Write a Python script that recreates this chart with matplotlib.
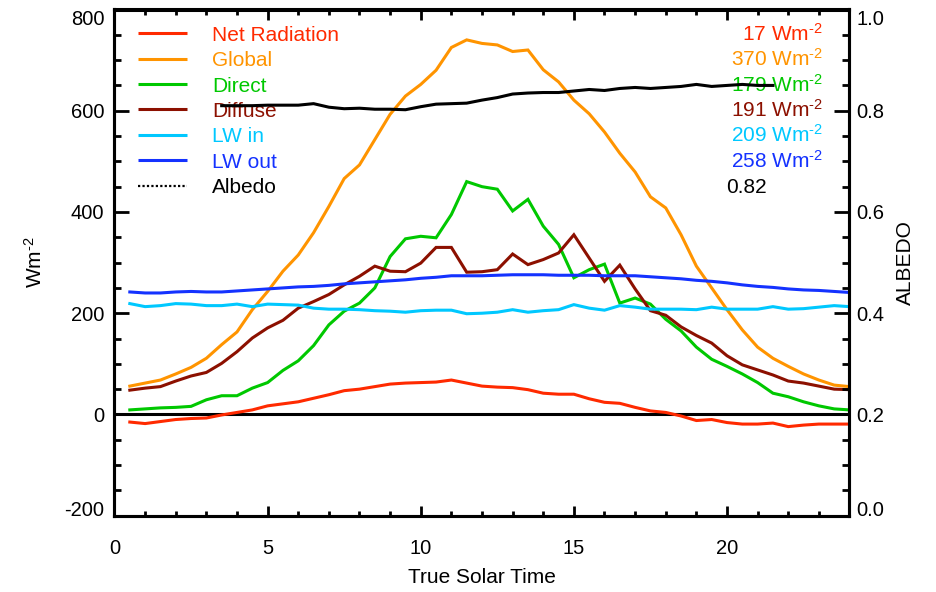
import numpy as np
import matplotlib
matplotlib.use("Agg")
import matplotlib.pyplot as plt
from matplotlib import transforms
from matplotlib.ticker import MultipleLocator, FuncFormatter

# ---- data: half-hourly daily cycle (W m-2) ----
hours = np.arange(0.5, 24.01, 0.5)

net_radiation = [-15, -18, -14, -10, -8, -7, -1, 4, 9, 17, 21, 25,
                 32, 39, 47, 50, 55, 60, 62, 63, 64, 68, 62, 56,
                 54, 53, 49, 42, 40, 40, 31, 24, 22, 14, 7, 4,
                 -3, -12, -10, -16, -19, -19, -17, -24, -21, -19, -19, -19]
global_rad = [56, 62, 68, 80, 93, 111, 138, 163, 207, 243, 283, 315,
              359, 411, 466, 493, 543, 593, 629, 652, 680, 725, 740, 733,
              730, 717, 720, 681, 657, 621, 594, 558, 516, 479, 430, 408,
              355, 293, 250, 207, 167, 133, 111, 95, 80, 68, 58, 55]
direct = [9, 11, 13, 14, 16, 29, 37, 37, 52, 63, 87, 106,
          136, 177, 204, 220, 250, 312, 347, 352, 349, 395, 460, 450,
          445, 402, 425, 372, 336, 270, 286, 297, 220, 230, 218, 188,
          165, 133, 109, 95, 80, 63, 42, 35, 25, 17, 11, 9]
diffuse = [48, 52, 55, 66, 76, 83, 101, 124, 151, 171, 186, 210,
           223, 237, 256, 273, 293, 283, 282, 299, 330, 330, 281, 282,
           286, 317, 296, 306, 319, 355, 309, 263, 295, 248, 205, 196,
           173, 156, 141, 116, 98, 88, 78, 66, 62, 56, 50, 49]
lw_in = [219, 213, 215, 219, 218, 215, 215, 218, 213, 218, 217, 216,
         210, 208, 208, 207, 205, 204, 202, 205, 206, 206, 199, 200,
         202, 207, 202, 205, 207, 217, 210, 206, 215, 212, 208, 208,
         208, 207, 212, 208, 208, 208, 213, 208, 209, 212, 215, 213]
lw_out = [242, 240, 240, 242, 243, 242, 242, 244, 246, 248, 250, 252,
          253, 255, 258, 260, 262, 264, 266, 269, 271, 274, 274, 274,
          275, 276, 276, 276, 275, 275, 275, 274, 274, 274, 272, 270,
          268, 265, 263, 260, 256, 253, 251, 248, 246, 245, 243, 241]

albedo_hours = np.arange(3.5, 21.51, 0.5)
albedo = [0.810, 0.810, 0.810, 0.811, 0.811, 0.811, 0.814, 0.807, 0.804,
          0.805, 0.803, 0.803, 0.802, 0.808, 0.813, 0.814, 0.815, 0.821,
          0.826, 0.833, 0.835, 0.836, 0.836, 0.839, 0.842, 0.840, 0.844,
          0.846, 0.844, 0.846, 0.848, 0.852, 0.848, 0.850, 0.852, 0.850,
          0.850]

names = ["Net Radiation", "Global", "Direct", "Diffuse", "LW in", "LW out"]
means = [17, 370, 179, 191, 209, 258]
albedo_mean = 0.82
colors = ["#ff2a00", "#ff9400", "#00c800", "#8c1000", "#00c8ff", "#1432ff"]
series = [net_radiation, global_rad, direct, diffuse, lw_in, lw_out]

UNIT = r"Wm$^{\text{-}2}$"

# ---- style ----
plt.rcParams["font.family"] = ["Liberation Sans", "DejaVu Sans"]
plt.rcParams["mathtext.fontset"] = "custom"
plt.rcParams["mathtext.rm"] = "Liberation Sans"
plt.rcParams["mathtext.default"] = "regular"
plt.rcParams["axes.unicode_minus"] = False

FS = 15
TICK_FS = 14.5
LW = 2.2

fig = plt.figure(figsize=(9.37, 5.92), dpi=100)
W, H = 937, 592
x0, x1, y0, y1 = 114.5, 849.5, 9.5, 515.7
ax = fig.add_axes([x0 / W, 1 - y1 / H, (x1 - x0) / W, (y1 - y0) / H])

for vals, c in zip(series, colors):
    ax.plot(hours, vals, color=c, lw=LW, solid_joinstyle="miter", zorder=3)
ax.axhline(0, color="black", lw=LW, zorder=2)

ax.set_xlim(0, 24)
ax.set_ylim(-200, 800)

# secondary axis for albedo
ax2 = ax.twinx()
ax2.set_ylim(0, 1)
ax2.plot(albedo_hours, albedo, color="black", lw=LW, zorder=3)

for a in (ax, ax2):
    for s in a.spines.values():
        s.set_linewidth(LW)

# x ticks
ax.xaxis.set_major_locator(MultipleLocator(5))
ax.xaxis.set_minor_locator(MultipleLocator(1))
ax.tick_params(axis="x", which="both", direction="in", top=True, bottom=True,
               width=2, labelsize=TICK_FS, pad=17)
ax.tick_params(axis="x", which="major", length=7.3)
ax.tick_params(axis="x", which="minor", length=3.7)

# left y ticks (end labels drawn separately, nudged inward)
ax.yaxis.set_major_locator(MultipleLocator(200))
ax.yaxis.set_minor_locator(MultipleLocator(50))
ax.yaxis.set_major_formatter(FuncFormatter(
    lambda v, p: "" if v in (800, -200) else f"{v:.0f}"))
ax.tick_params(axis="y", which="both", direction="in", left=True, right=False,
               width=2, labelsize=TICK_FS, pad=7.2)
ax.tick_params(axis="y", which="major", length=10.6)
ax.tick_params(axis="y", which="minor", length=5.3)

# right y ticks
ax2.yaxis.set_major_locator(MultipleLocator(0.2))
ax2.yaxis.set_minor_locator(MultipleLocator(0.05))
ax2.yaxis.set_major_formatter(FuncFormatter(
    lambda v, p: "" if (abs(v - 1) < 1e-6 or abs(v) < 1e-6) else f"{v:.1f}"))
ax2.tick_params(axis="y", which="both", direction="in", right=True,
                width=2, labelsize=TICK_FS, pad=5)
ax2.tick_params(axis="y", which="major", length=10.6)
ax2.tick_params(axis="y", which="minor", length=5.3)

left_tr = transforms.blended_transform_factory(ax.transAxes, ax.transData)
right_tr = transforms.blended_transform_factory(ax2.transAxes, ax2.transData)


def shifted(tr, dx_pt, dy_pt):
    return tr + transforms.ScaledTranslation(dx_pt / 72, dy_pt / 72,
                                             fig.dpi_scale_trans)


ax.text(0, 800, "800", transform=shifted(left_tr, -7.2, -7.5),
        ha="right", va="center", fontsize=TICK_FS)
ax.text(0, -200, "-200", transform=shifted(left_tr, -7.2, 4),
        ha="right", va="center", fontsize=TICK_FS)
ax2.text(1, 1.0, "1.0", transform=shifted(right_tr, 5, -7.5),
         ha="left", va="center", fontsize=TICK_FS)
ax2.text(1, 0.0, "0.0", transform=shifted(right_tr, 5, 4),
         ha="left", va="center", fontsize=TICK_FS)

# axis titles
ax.set_xlabel("True Solar Time", fontsize=FS)
ax.xaxis.set_label_coords(0.5, -0.123)
ax.xaxis.label.set_va("center")
ax.set_ylabel(UNIT, fontsize=FS)
ax.yaxis.set_label_coords(-0.108, 0.5)
ax.yaxis.label.set_va("center")
ax2.set_ylabel("ALBEDO", fontsize=FS)
ax2.yaxis.set_label_coords(1.0755, 0.5)
ax2.yaxis.label.set_va("center")
ax2.yaxis.label.set_rotation(90)

# legend block with daily means
row_base = [40.7 + 25.4 * i for i in range(7)]


def fx(px):
    return (px - x0) / (x1 - x0)


def fy(py):
    return (y1 - py) / (y1 - y0)


for i, (name, c, m) in enumerate(zip(names, colors, means)):
    yb = row_base[i]
    ax.plot([fx(138), fx(187)], [fy(yb - 7.5)] * 2, transform=ax.transAxes,
            color=c, lw=LW, solid_capstyle="butt", clip_on=False, zorder=4)
    ax.text(fx(212), fy(yb), name, transform=ax.transAxes, color=c,
            fontsize=FS, ha="left", va="baseline", zorder=5)
    ax.text(fx(823), fy(yb), f"{m} " + UNIT, transform=ax.transAxes,
            color=c, fontsize=FS, ha="right", va="baseline", zorder=5)

yb = row_base[6]
ax.plot([fx(138), fx(187)], [fy(yb - 7.5)] * 2, transform=ax.transAxes,
        color="black", lw=1.6, linestyle=(0, (1, 1)), clip_on=False, zorder=4)
ax.text(fx(212), fy(yb), "Albedo", transform=ax.transAxes, color="black",
        fontsize=FS, ha="left", va="baseline", zorder=5)
ax.text(fx(767), fy(yb), f"{albedo_mean:.2f}", transform=ax.transAxes,
        color="black", fontsize=FS, ha="right", va="baseline", zorder=5)

fig.savefig("out.png", dpi=100)
